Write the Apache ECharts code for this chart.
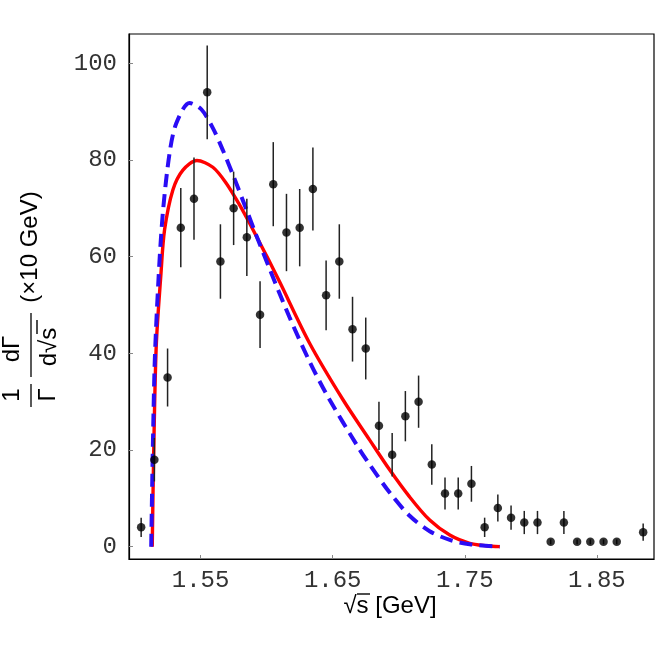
<!DOCTYPE html>
<html>
<head>
<meta charset="utf-8">
<script src="https://cdn.jsdelivr.net/npm/echarts@6/dist/echarts.min.js"></script>
<style>
  html, body { margin: 0; padding: 0; background: #fff; }
  #main { width: 655px; height: 655px; }
</style>
</head>
<body>
<div id="main"></div>
<script>
// measured points (sqrt s in GeV)
const dataX = [1.505, 1.515, 1.525, 1.535, 1.545, 1.555, 1.565, 1.575, 1.585, 1.595,
  1.605, 1.615, 1.625, 1.635, 1.645, 1.655, 1.665, 1.675, 1.685, 1.695,
  1.705, 1.715, 1.725, 1.735, 1.745, 1.755, 1.765, 1.775, 1.785, 1.795,
  1.805, 1.815, 1.825, 1.835, 1.845, 1.855, 1.865, 1.885]
const dataY = [4, 18, 35, 66, 72, 94, 59, 70, 64, 48,
  75, 65, 66, 74, 52, 59, 45, 41, 25, 19,
  27, 30, 17, 11, 11, 13, 4, 8, 6, 5,
  5, 1, 5, 1, 1, 1, 1, 3]
const dataErr = [2, 4.5, 6, 8.2, 8.5, 9.7, 7.7, 7.6, 8, 6.9,
  8.7, 8, 8, 8.6, 7.2, 7.7, 6.7, 6.4, 5, 4.5,
  5.2, 5.4, 4.2, 3.3, 3.3, 3.7, 2, 2.8, 2.5, 2.4,
  2.4, 0.5, 2.4, 0.5, 0.5, 0.5, 0.5, 1.8]

// red solid curve
const redX = [1.5134, 1.5144, 1.5164, 1.5200, 1.5227, 1.5290, 1.5366, 1.5472, 1.5593, 1.5694,
  1.5795, 1.5871, 1.6010, 1.6098, 1.6325, 1.6578, 1.6779, 1.6931, 1.7082, 1.7234,
  1.7386, 1.7537, 1.7664, 1.7765]
const redY = [0, 17.9, 41.4, 56.5, 65.5, 73.8, 77.9, 79.9, 78.5, 75.2,
  70.7, 66.9, 59.6, 54.8, 42.1, 30.4, 22.1, 15.9, 10.3, 5.5,
  2.4, 0.7, 0.2, 0]

// blue dashed curve
const blueX = [1.5126, 1.5151, 1.5181, 1.5214, 1.5265, 1.5316, 1.5416, 1.5505, 1.5593, 1.5669,
  1.5744, 1.5846, 1.5922, 1.6022, 1.6174, 1.6325, 1.6464, 1.6692, 1.6779, 1.6931,
  1.7082, 1.7234, 1.7386, 1.7537, 1.7765]
const blueY = [0, 36.6, 55.2, 69, 81.4, 87.6, 91.8, 90.5, 86.6, 82.0,
  77.0, 69.8, 64.4, 57.5, 47.4, 38.3, 31.0, 20.6, 17.0, 11.2,
  6.4, 3.2, 1.4, 0.5, 0]

const xTicks = [1.55, 1.65, 1.75, 1.85]
const yTicks = [0, 20, 40, 60, 80, 100]

const zip = (a, b) => a.map((v, i) => [v, b[i]])

const tickFont = {
  fontFamily: 'Liberation Mono',
  fontSize: 24,
  color: '#333'
}
const titleFont = '24px Liberation Sans'

// rotated piece of the y title
function yText(text, x, y) {
  return {
    type: 'text', x, y, rotation: Math.PI / 2,
    style: {text, font: titleFont, fill: '#000', align: 'center', verticalAlign: 'middle'}
  }
}
function rule(x1, y1, x2, y2, w) {
  return {type: 'line', shape: {x1, y1, x2, y2}, style: {stroke: '#000', lineWidth: w || 1.3}}
}

let chart = echarts.init(document.getElementById('main'))

chart.setOption({
  animation: false,
  grid: {
    left: 129, right: 1, top: 34, bottom: 96,
    show: true, borderColor: '#000', borderWidth: 1.2
  },
  xAxis: {
    type: 'value', min: 1.4958, max: 1.8932,
    axisLine: {onZero: false, lineStyle: {color: '#000', width: 1.2}},
    axisTick: {inside: true, length: 4, customValues: xTicks, lineStyle: {color: '#888'}},
    axisLabel: {...tickFont, margin: 10, customValues: xTicks, formatter: v => v.toFixed(2)},
    splitLine: {show: false}
  },
  yAxis: {
    type: 'value', min: -2.55, max: 106.07,
    axisLine: {show: true, onZero: false, lineStyle: {color: '#000', width: 1.2}},
    axisTick: {show: true, inside: true, length: 4, customValues: yTicks, lineStyle: {color: '#888'}},
    axisLabel: {...tickFont, margin: 12, customValues: yTicks},
    splitLine: {show: false}
  },
  graphic: [
    // x title
    {type: 'text', x: 390, y: 606, style: {text: '√s [GeV]', font: titleFont, fill: '#000', align: 'center', verticalAlign: 'middle'}},
    rule(357, 594, 370, 594, 1.4),
    // y title: 1/Γ dΓ/d√s (×10 GeV)
    yText('1', 12, 395),
    rule(31, 384, 31, 407),
    yText('Γ', 48, 395),
    yText('dΓ', 12, 349),
    rule(31, 313, 31, 377),
    yText('d√s', 49, 347),
    rule(37, 320, 37, 334, 1.4),
    yText('(×10 GeV)', 30, 247)
  ],
  series: [
    {
      type: 'line', data: zip(redX, redY), smooth: 0.3, showSymbol: false,
      lineStyle: {color: '#ff0000', width: 3.4}, z: 2
    },
    {
      type: 'line', data: zip(blueX, blueY), smooth: 0.3, showSymbol: false,
      lineStyle: {color: '#2a0cf5', width: 4, type: [13, 7]}, z: 3
    },
    {
      // error bars
      type: 'custom', z: 4,
      data: dataX.map((x, i) => [x, dataY[i] - dataErr[i], dataY[i] + dataErr[i]]),
      renderItem: (params, api) => {
        const lo = api.coord([api.value(0), api.value(1)])
        const hi = api.coord([api.value(0), api.value(2)])
        return {
          type: 'line',
          shape: {x1: lo[0], y1: lo[1], x2: hi[0], y2: hi[1]},
          style: {stroke: '#222', lineWidth: 1.5}
        }
      }
    },
    {
      type: 'scatter', data: zip(dataX, dataY), symbol: 'circle', symbolSize: 8.5,
      itemStyle: {color: '#000'}, z: 5
    }
  ]
})
</script>
</body>
</html>
